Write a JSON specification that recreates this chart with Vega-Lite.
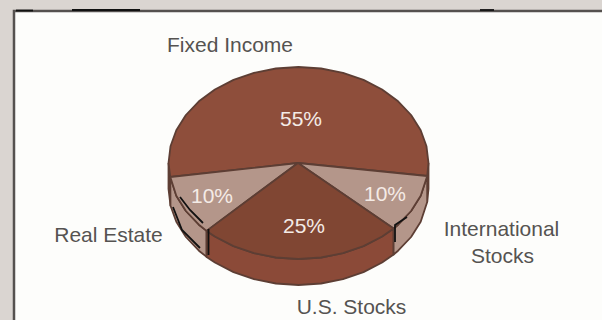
{
  "$schema": "https://vega.github.io/schema/vega-lite/v6.json",
  "width": 588,
  "height": 310,
  "padding": {"left": 14, "top": 10, "right": 0, "bottom": 0},
  "autosize": "none",
  "background": "#dad5d1",
  "view": {"fill": "#fdfdfb", "stroke": null},
  "datasets": {
    "faces": [
      {"part":"Side left sliver","seq":0,"x":168.5,"y":163},{"part":"Side left sliver","seq":1,"x":170.3,"y":177},{"part":"Side left sliver","seq":2,"x":170.5,"y":205.7},{"part":"Side left sliver","seq":3,"x":168.5,"y":189},{"part":"Side left sliver","seq":4,"x":168.5,"y":163},
      {"part":"Side right sliver","seq":0,"x":428.5,"y":163},{"part":"Side right sliver","seq":1,"x":427.2,"y":176},{"part":"Side right sliver","seq":2,"x":427.2,"y":202},{"part":"Side right sliver","seq":3,"x":428.5,"y":189},{"part":"Side right sliver","seq":4,"x":428.5,"y":163},

      {"part":"Side Real Estate","seq":0,"x":206.6,"y":230.9},{"part":"Side Real Estate","seq":1,"x":198.9,"y":224.7},{"part":"Side Real Estate","seq":2,"x":185.9,"y":211},{"part":"Side Real Estate","seq":3,"x":176.3,"y":195.8},{"part":"Side Real Estate","seq":4,"x":170.3,"y":177},{"part":"Side Real Estate","seq":5,"x":170.5,"y":205.7},{"part":"Side Real Estate","seq":6,"x":176.3,"y":221.8},{"part":"Side Real Estate","seq":7,"x":185.9,"y":237},{"part":"Side Real Estate","seq":8,"x":198.9,"y":250.7},{"part":"Side Real Estate","seq":9,"x":206.6,"y":256.9},{"part":"Side Real Estate","seq":10,"x":206.6,"y":230.9},

      {"part":"Side U.S. Stocks","seq":0,"x":393.6,"y":228.5},{"part":"Side U.S. Stocks","seq":1,"x":382.1,"y":236.5},{"part":"Side U.S. Stocks","seq":2,"x":363.5,"y":246.1},{"part":"Side U.S. Stocks","seq":3,"x":343,"y":253.2},{"part":"Side U.S. Stocks","seq":4,"x":321.1,"y":257.5},{"part":"Side U.S. Stocks","seq":5,"x":298.5,"y":259},{"part":"Side U.S. Stocks","seq":6,"x":275.9,"y":257.5},{"part":"Side U.S. Stocks","seq":7,"x":254,"y":253.2},{"part":"Side U.S. Stocks","seq":8,"x":233.5,"y":246.1},{"part":"Side U.S. Stocks","seq":9,"x":214.9,"y":236.5},{"part":"Side U.S. Stocks","seq":10,"x":206.6,"y":230.9},{"part":"Side U.S. Stocks","seq":11,"x":206.6,"y":256.9},{"part":"Side U.S. Stocks","seq":12,"x":214.9,"y":262.5},{"part":"Side U.S. Stocks","seq":13,"x":233.5,"y":272.1},{"part":"Side U.S. Stocks","seq":14,"x":254,"y":279.2},{"part":"Side U.S. Stocks","seq":15,"x":275.9,"y":283.5},{"part":"Side U.S. Stocks","seq":16,"x":298.5,"y":285},{"part":"Side U.S. Stocks","seq":17,"x":321.1,"y":283.5},{"part":"Side U.S. Stocks","seq":18,"x":343,"y":279.2},{"part":"Side U.S. Stocks","seq":19,"x":363.5,"y":272.1},{"part":"Side U.S. Stocks","seq":20,"x":382.1,"y":262.5},{"part":"Side U.S. Stocks","seq":21,"x":393.6,"y":254.5},{"part":"Side U.S. Stocks","seq":22,"x":393.6,"y":228.5},

      {"part":"Side International","seq":0,"x":427.2,"y":176},{"part":"Side International","seq":1,"x":420.7,"y":195.8},{"part":"Side International","seq":2,"x":411.1,"y":211},{"part":"Side International","seq":3,"x":398.1,"y":224.7},{"part":"Side International","seq":4,"x":393.6,"y":228.5},{"part":"Side International","seq":5,"x":393.6,"y":254.5},{"part":"Side International","seq":6,"x":398.1,"y":250.7},{"part":"Side International","seq":7,"x":411.1,"y":237},{"part":"Side International","seq":8,"x":420.7,"y":221.8},{"part":"Side International","seq":9,"x":427.2,"y":202},{"part":"Side International","seq":10,"x":427.2,"y":176},

      {"part":"Top Fixed Income","seq":0,"x":298,"y":163},{"part":"Top Fixed Income","seq":1,"x":427.2,"y":176},{"part":"Top Fixed Income","seq":2,"x":428.5,"y":163},{"part":"Top Fixed Income","seq":3,"x":426.5,"y":146.3},{"part":"Top Fixed Income","seq":4,"x":420.7,"y":130.2},{"part":"Top Fixed Income","seq":5,"x":411.1,"y":115},{"part":"Top Fixed Income","seq":6,"x":398.1,"y":101.3},{"part":"Top Fixed Income","seq":7,"x":382.1,"y":89.5},{"part":"Top Fixed Income","seq":8,"x":363.5,"y":79.9},{"part":"Top Fixed Income","seq":9,"x":343,"y":72.8},{"part":"Top Fixed Income","seq":10,"x":321.1,"y":68.5},{"part":"Top Fixed Income","seq":11,"x":298.5,"y":67},{"part":"Top Fixed Income","seq":12,"x":275.9,"y":68.5},{"part":"Top Fixed Income","seq":13,"x":254,"y":72.8},{"part":"Top Fixed Income","seq":14,"x":233.5,"y":79.9},{"part":"Top Fixed Income","seq":15,"x":214.9,"y":89.5},{"part":"Top Fixed Income","seq":16,"x":198.9,"y":101.3},{"part":"Top Fixed Income","seq":17,"x":185.9,"y":115},{"part":"Top Fixed Income","seq":18,"x":176.3,"y":130.2},{"part":"Top Fixed Income","seq":19,"x":170.5,"y":146.3},{"part":"Top Fixed Income","seq":20,"x":168.5,"y":163},{"part":"Top Fixed Income","seq":21,"x":170.3,"y":177},{"part":"Top Fixed Income","seq":22,"x":298,"y":163},

      {"part":"Top Real Estate","seq":0,"x":298,"y":163},{"part":"Top Real Estate","seq":1,"x":170.3,"y":177},{"part":"Top Real Estate","seq":2,"x":176.3,"y":195.8},{"part":"Top Real Estate","seq":3,"x":185.9,"y":211},{"part":"Top Real Estate","seq":4,"x":198.9,"y":224.7},{"part":"Top Real Estate","seq":5,"x":206.6,"y":230.9},{"part":"Top Real Estate","seq":6,"x":298,"y":163},

      {"part":"Top International","seq":0,"x":298,"y":163},{"part":"Top International","seq":1,"x":393.6,"y":228.5},{"part":"Top International","seq":2,"x":398.1,"y":224.7},{"part":"Top International","seq":3,"x":411.1,"y":211},{"part":"Top International","seq":4,"x":420.7,"y":195.8},{"part":"Top International","seq":5,"x":427.2,"y":176},{"part":"Top International","seq":6,"x":298,"y":163},

      {"part":"Top U.S. Stocks","seq":0,"x":298,"y":163},{"part":"Top U.S. Stocks","seq":1,"x":393.6,"y":228.5},{"part":"Top U.S. Stocks","seq":2,"x":382.1,"y":236.5},{"part":"Top U.S. Stocks","seq":3,"x":363.5,"y":246.1},{"part":"Top U.S. Stocks","seq":4,"x":343,"y":253.2},{"part":"Top U.S. Stocks","seq":5,"x":321.1,"y":257.5},{"part":"Top U.S. Stocks","seq":6,"x":298.5,"y":259},{"part":"Top U.S. Stocks","seq":7,"x":275.9,"y":257.5},{"part":"Top U.S. Stocks","seq":8,"x":254,"y":253.2},{"part":"Top U.S. Stocks","seq":9,"x":233.5,"y":246.1},{"part":"Top U.S. Stocks","seq":10,"x":214.9,"y":236.5},{"part":"Top U.S. Stocks","seq":11,"x":206.6,"y":230.9},{"part":"Top U.S. Stocks","seq":12,"x":298,"y":163}
    ],
    "frame": [
      {"seg":"box","seq":0,"x":14,"y":320},{"seg":"box","seq":1,"x":14,"y":11},{"seg":"box","seq":2,"x":602,"y":11}
    ],
    "ink": [
      {"seg":"a","seq":0,"x":180,"y":197},{"seg":"a","seq":1,"x":190,"y":210},{"seg":"a","seq":2,"x":203,"y":223},
      {"seg":"b","seq":0,"x":173,"y":207},{"seg":"b","seq":1,"x":182,"y":230},{"seg":"b","seq":2,"x":200,"y":248},
      {"seg":"c","seq":0,"x":208.5,"y":229},{"seg":"c","seq":1,"x":208.5,"y":255},
      {"seg":"d","seq":0,"x":395,"y":242},{"seg":"d","seq":1,"x":395,"y":225},{"seg":"d","seq":2,"x":407,"y":217},
      {"seg":"e","seq":0,"x":16,"y":10.5},{"seg":"e","seq":1,"x":33,"y":10.5},
      {"seg":"f","seq":0,"x":72,"y":10},{"seg":"f","seq":1,"x":140,"y":10},
      {"seg":"g","seq":0,"x":480,"y":10},{"seg":"g","seq":1,"x":494,"y":10}
    ],
    "labels": [
      {"text":"Fixed Income","x":230,"y":46,"tone":"caption"},
      {"text":"Real Estate","x":108.5,"y":236,"tone":"caption"},
      {"text":"International","x":501.5,"y":230,"tone":"caption"},
      {"text":"Stocks","x":502.5,"y":257,"tone":"caption"},
      {"text":"U.S. Stocks","x":351.5,"y":308,"tone":"caption"},
      {"text":"55%","x":301,"y":120,"tone":"value"},
      {"text":"10%","x":212,"y":197,"tone":"value"},
      {"text":"25%","x":304,"y":227,"tone":"value"},
      {"text":"10%","x":385,"y":195,"tone":"value"}
    ]
  },
  "encoding": {
    "x": {"field": "x", "type": "quantitative", "scale": {"domain": [14, 602], "nice": false, "zero": false}, "axis": null},
    "y": {"field": "y", "type": "quantitative", "scale": {"domain": [320, 10], "nice": false, "zero": false}, "axis": null}
  },
  "layer": [
    {
      "data": {"name": "faces"},
      "mark": {"type": "line", "stroke": "#5d3e34", "strokeWidth": 1.8, "strokeJoin": "round"},
      "encoding": {
        "order": {"field": "seq", "type": "quantitative"},
        "detail": {"field": "part"},
        "fill": {
          "field": "part",
          "type": "nominal",
          "legend": null,
          "scale": {
            "domain": ["Side left sliver","Side right sliver","Side Real Estate","Side U.S. Stocks","Side International","Top Fixed Income","Top Real Estate","Top International","Top U.S. Stocks"],
            "range": ["#8b4a38","#8b4a38","#b4968a","#8b4a38","#b4968a","#8e4e3b","#b4968a","#b4968a","#804633"]
          }
        }
      }
    },
    {
      "data": {"name": "frame"},
      "mark": {"type": "line", "stroke": "#55514f", "strokeWidth": 2.5, "clip": false},
      "encoding": {"order": {"field": "seq", "type": "quantitative"}}
    },
    {
      "data": {"name": "ink"},
      "mark": {"type": "line", "stroke": "#111111", "strokeWidth": 1.8},
      "encoding": {
        "order": {"field": "seq", "type": "quantitative"},
        "detail": {"field": "seg"}
      }
    },
    {
      "data": {"name": "labels"},
      "mark": {"type": "text", "font": "Liberation Sans", "fontSize": 21, "align": "center", "baseline": "middle"},
      "encoding": {
        "text": {"field": "text"},
        "color": {
          "field": "tone",
          "type": "nominal",
          "legend": null,
          "scale": {"domain": ["caption", "value"], "range": ["#555351", "#f4ebe6"]}
        }
      }
    }
  ]
}
